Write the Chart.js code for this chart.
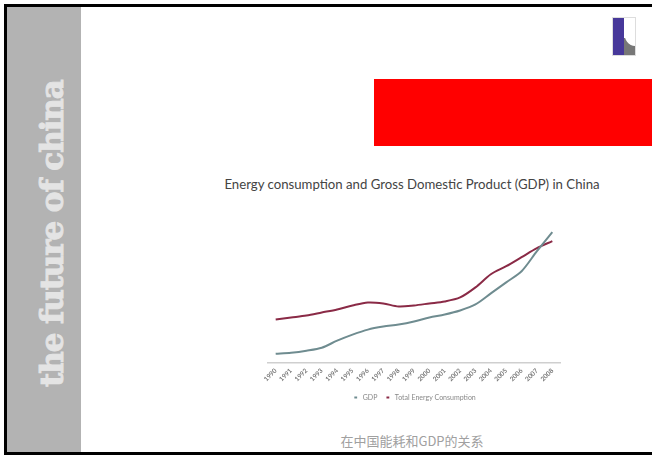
<!DOCTYPE html>
<html>
<head>
<meta charset="utf-8">
<script src="https://cdn.jsdelivr.net/npm/chart.js@4.4.1/dist/chart.umd.min.js"></script>
<style>
  html, body { margin: 0; padding: 0; width: 652px; height: 455px; overflow: hidden; background: #fff; }
  #frame { position: absolute; left: 4px; top: 4px; width: 660px; height: 445px; border: 3px solid #000; border-right: none; }
  #side { position: absolute; left: 7px; top: 7px; width: 74px; height: 445px; background: #b3b3b3; overflow: hidden; }
  #side span {
    position: absolute; left: 30px; top: 380px; transform-origin: 0 0; transform: rotate(-90deg);
    font: bold 31px/1 "DejaVu Serif", serif; color: #e4e4e4; white-space: nowrap; letter-spacing: -1.1px;
    -webkit-text-stroke: 0.9px #e4e4e4;
  }
  #red { position: absolute; left: 374px; top: 79px; width: 290px; height: 67px; background: #ff0000; }
  #logo { position: absolute; left: 612px; top: 17px; width: 22px; height: 37px; border: 1px solid #ddd; background: #fff; overflow: hidden; }
  #logo .bar { position: absolute; left: 0; top: 0; width: 11px; height: 37px; background: #47389a; }
  #logo .foot { position: absolute; left: 11px; top: 20px; width: 11px; height: 17px; background: #777; }
  #logo .curve { position: absolute; left: 11px; top: 0; width: 22px; height: 28px; background: #fff; border-bottom-left-radius: 11px 14px; }
  #title { position: absolute; left: 162px; width: 500px; top: 176px; text-align: center; font: 13.2px Lato, sans-serif; color: #444; white-space: nowrap; }
  #cap { position: absolute; left: 262px; width: 300px; top: 431px; text-align: center; font: 13px "Noto Sans CJK SC", sans-serif; color: #a0a0a0; }
  #wrap { position: absolute; left: 200px; top: 210px; width: 424px; height: 205px; }
</style>
</head>
<body>
<div id="frame"></div>
<div id="side"><span>the future of china</span></div>
<div id="red"></div>
<div id="logo"><div class="bar"></div><div class="foot"></div><div class="curve"></div></div>
<div id="title">Energy consumption and Gross Domestic Product (GDP) in China</div>
<div id="wrap"><canvas id="chart"></canvas></div>
<div id="cap">在中国能耗和GDP的关系</div>
<script>
let years = ['1990', '1991', '1992', '1993', '1994', '1995', '1996', '1997', '1998', '1999',
  '2000', '2001', '2002', '2003', '2004', '2005', '2006', '2007', '2008']
let gdp = [9, 10, 12, 15, 22, 28, 33, 36, 38, 41, 45, 48, 52, 58, 69, 80, 91, 111, 130]
let energy = [43, 45, 47, 50, 53, 57, 60, 59, 56, 57, 59, 61, 65, 75, 88, 96, 105, 114, 121]

const chart = new Chart(document.getElementById('chart'), {
  type: 'line',
  data: {
    labels: years,
    datasets: [{
      label: 'GDP',
      data: gdp,
      borderColor: '#6f8c90',
      backgroundColor: '#6f8c90',
      borderWidth: 2,
      pointRadius: 0,
      tension: 0.3
    }, {
      label: 'Total Energy Consumption',
      data: energy,
      borderColor: '#8a2a46',
      backgroundColor: '#8a2a46',
      borderWidth: 2,
      pointRadius: 0,
      tension: 0.3
    }]
  },
  options: {
    responsive: true,
    maintainAspectRatio: false,
    animation: false,
    layout: { padding: { left: 68, right: 64, top: 18, bottom: 4 } },
    scales: {
      x: {
        offset: true,
        grid: { display: false, drawTicks: false },
        border: { color: '#cfcfcf', width: 1.5 },
        ticks: {
          minRotation: 45, maxRotation: 45, padding: 4,
          color: '#777', font: { size: 6.5, family: 'Lato', weight: 'bold' }
        }
      },
      y: {
        display: false,
        min: 0,
        max: 134
      }
    },
    plugins: {
      legend: {
        position: 'bottom',
        labels: {
          usePointStyle: true, pointStyle: 'line', boxWidth: 12, boxHeight: 2,
          padding: 7, color: '#888', font: { size: 7, family: 'Lato' }
        }
      },
      tooltip: { enabled: false }
    }
  }
})
</script>
</body>
</html>
